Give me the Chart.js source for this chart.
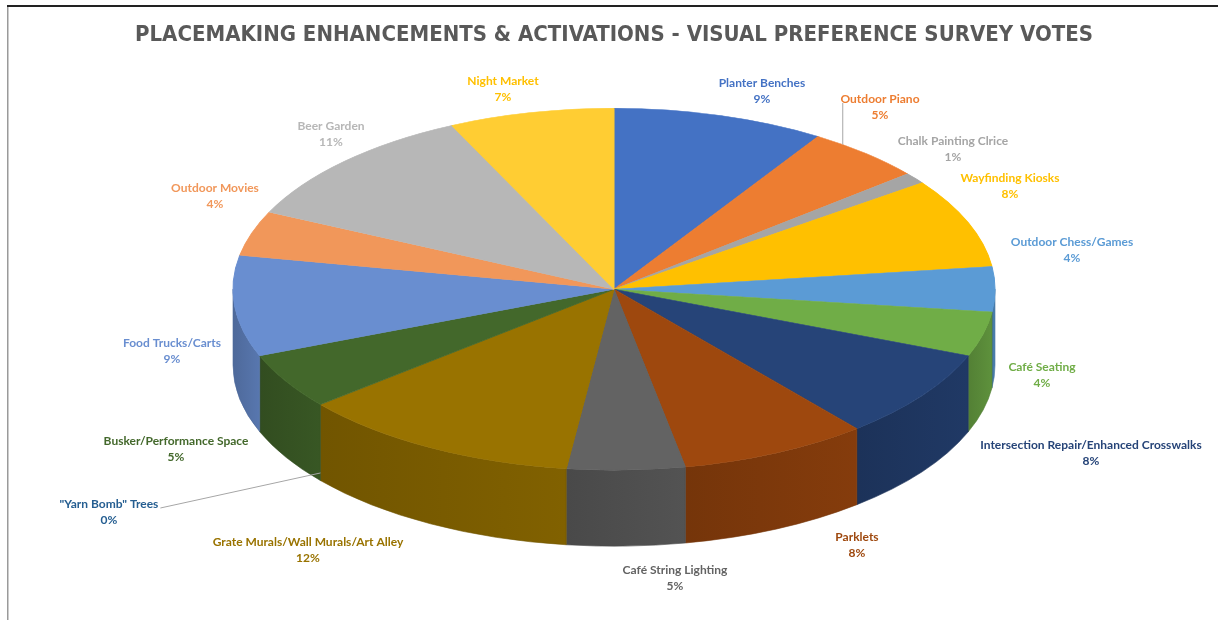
<!DOCTYPE html>
<html>
<head>
<meta charset="utf-8">
<title>Placemaking Enhancements &amp; Activations</title>
<script src="https://cdn.jsdelivr.net/npm/chart.js@4.4.1/dist/chart.umd.min.js"></script>
<style>
  html, body { margin: 0; padding: 0; background: #ffffff; }
  #wrap { position: relative; width: 1218px; height: 620px; }
  canvas { display: block; }
</style>
</head>
<body>
<div id="wrap"><canvas id="chart" width="1218" height="620"></canvas></div>
<script>
// Survey categories, clockwise from 12 o'clock
const categories = [
  'Planter Benches',
  'Outdoor Piano',
  'Chalk Painting Clrice',
  'Wayfinding Kiosks',
  'Outdoor Chess/Games',
  'Café Seating',
  'Intersection Repair/Enhanced Crosswalks',
  'Parklets',
  'Café String Lighting',
  'Grate Murals/Wall Murals/Art Alley',
  '"Yarn Bomb" Trees',
  'Busker/Performance Space',
  'Food Trucks/Carts',
  'Outdoor Movies',
  'Beer Garden',
  'Night Market'
];

// Share of votes, percent
const shares = [9, 5, 1, 8, 4, 4, 8, 8, 5, 12, 0, 5, 9, 4, 11, 7];

const chartTitle = 'PLACEMAKING ENHANCEMENTS & ACTIVATIONS - VISUAL PREFERENCE SURVEY VOTES';

// Slice fills (top face) and the matching label colours
const sliceColors = [
  '#4472C4', '#ED7D31', '#A5A5A5', '#FFC000', '#5B9BD5', '#70AD47', '#264478', '#9E480E',
  '#636363', '#997300', '#255E91', '#43682B', '#698ED0', '#F1975A', '#B7B7B7', '#FFCD33'
];
const labelColors = [
  '#4472C4', '#ED7D31', '#A5A5A5', '#FFC000', '#5B9BD5', '#70AD47', '#264478', '#9E480E',
  '#636363', '#997300', '#255E91', '#43682B', '#698ED0', '#F1975A', '#B7B7B7', '#FFC000'
];

// Label placement: centre of the category line, canvas pixels
const labelSpots = [
  [762, 83], [880, 99], [953, 141], [1010, 178], [1072, 242], [1042, 367],
  [1091, 445], [857, 537], [675, 570], [308, 542], [109, 504], [176, 441],
  [172, 343], [215, 188], [331, 126], [503, 81]
];
// Labels joined to their slice by a connector line
const leaderIdx = [1, 10];

// Tilted-pie geometry
const RADIUS_Y = 181;   // vertical half-axis of the top face
const RADIUS_X = 381;   // horizontal half-axis of the top face
const DEPTH = 76;       // thickness of the pie wall

function shade(hex, f) {
  const n = parseInt(hex.slice(1), 16);
  const r = Math.round(((n >> 16) & 255) * f);
  const g = Math.round(((n >> 8) & 255) * f);
  const b = Math.round((n & 255) * f);
  return 'rgb(' + r + ',' + g + ',' + b + ')';
}

const LABEL_FONT = 'bold 12px Lato, "Open Sans", sans-serif';

// Squash the pie into an ellipse and extrude a wall under its front half
const tiltedPie = {
  id: 'tiltedPie',
  beforeDraw(chart) {
    const ctx = chart.ctx;
    ctx.save();
    ctx.fillStyle = '#222222';
    ctx.fillRect(7, 5, chart.width - 7, 2);
    ctx.fillStyle = '#9a9a9a';
    ctx.fillRect(7, 7, 1.5, chart.height - 7);
    ctx.restore();
  },
  beforeDatasetsDraw(chart) {
    const meta = chart.getDatasetMeta(0);
    const ctx = chart.ctx;
    const a0 = meta.data[0];
    const cx = a0.x, cy = a0.y;
    const ry = a0.outerRadius;
    const sx = RADIUS_X / ry;

    // wall: the front-facing part of every slice's rim, pushed down by DEPTH
    ctx.save();
    meta.data.forEach((arc, i) => {
      const a = Math.max(arc.startAngle, 0);
      const b = Math.min(arc.endAngle, Math.PI);
      if (b <= a) return;
      const xa = cx + RADIUS_X * Math.cos(a);
      const xb = cx + RADIUS_X * Math.cos(b);
      const g = ctx.createLinearGradient(Math.min(xa, xb), 0, Math.max(xa, xb), 0);
      g.addColorStop(0, shade(sliceColors[i], 0.74));
      g.addColorStop(1, shade(sliceColors[i], 0.84));
      ctx.beginPath();
      ctx.ellipse(cx, cy, RADIUS_X, ry, 0, a, b, false);
      ctx.ellipse(cx, cy + DEPTH, RADIUS_X, ry, 0, b, a, true);
      ctx.closePath();
      ctx.fillStyle = g;
      ctx.fill();
      ctx.strokeStyle = shade(sliceColors[i], 0.74);
      ctx.lineWidth = 0.6;
      ctx.stroke();
    });
    ctx.restore();

    // the chart's own slice drawing becomes the top face
    ctx.save();
    ctx.translate(cx, cy); ctx.scale(sx, 1); ctx.translate(-cx, -cy);
  },
  afterDatasetsDraw(chart) {
    chart.ctx.restore();
  },
  afterDraw(chart) {
    const meta = chart.getDatasetMeta(0);
    const ctx = chart.ctx;
    const a0 = meta.data[0];
    const cx = a0.x, cy = a0.y;
    const ry = a0.outerRadius;

    ctx.save();
    // connectors
    ctx.strokeStyle = '#a6a6a6';
    ctx.lineWidth = 1;
    leaderIdx.forEach(i => {
      const arc = meta.data[i];
      const ang = arc.startAngle + (arc.endAngle - arc.startAngle) * 0.25;
      const px = cx + RADIUS_X * Math.cos(ang);
      let py = cy + ry * Math.sin(ang);
      const [lx, ly] = labelSpots[i];
      ctx.beginPath();
      if (py < cy) {
        ctx.moveTo(px, ly + 4);
        ctx.lineTo(px, py);
      } else {
        py += DEPTH * 0.9;
        ctx.font = LABEL_FONT;
        const w = ctx.measureText(categories[i]).width;
        ctx.moveTo(lx + w / 2 + 2, ly + 4);
        ctx.lineTo(px, py);
      }
      ctx.stroke();
    });

    // data labels
    ctx.font = LABEL_FONT;
    ctx.textAlign = 'center';
    ctx.textBaseline = 'middle';
    categories.forEach((name, i) => {
      const [lx, ly] = labelSpots[i];
      ctx.fillStyle = labelColors[i];
      ctx.fillText(name, lx, ly);
      ctx.fillText(shares[i] + '%', lx, ly + 16);
    });
    ctx.restore();
  }
};

new Chart(document.getElementById('chart'), {
  type: 'pie',
  data: {
    labels: categories,
    datasets: [{
      data: shares,
      backgroundColor: sliceColors,
      borderColor: sliceColors,
      borderWidth: 0.5,
      hoverOffset: 0,
      clip: false
    }]
  },
  options: {
    responsive: false,
    animation: false,
    events: [],
    radius: RADIUS_Y,
    rotation: 0,
    layout: { padding: { left: 10, right: 0, top: 0, bottom: 90 } },
    plugins: {
      legend: { display: false },
      tooltip: { enabled: false },
      title: {
        display: true,
        text: chartTitle,
        color: '#595959',
        font: { family: '"Liberation Sans Narrow", "DejaVu Sans Condensed", "Open Sans", sans-serif', size: 22, weight: 'bold' },
        padding: { top: 22, bottom: 0 }
      }
    }
  },
  plugins: [tiltedPie]
});
</script>
</body>
</html>
